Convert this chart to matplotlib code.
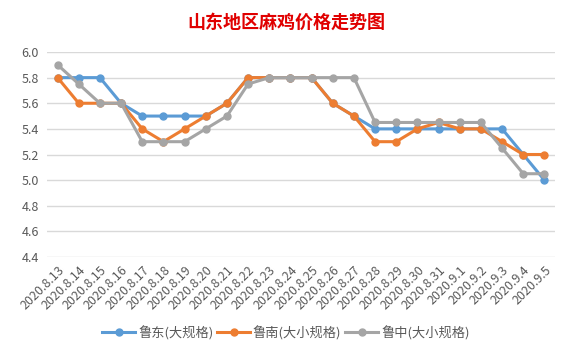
import matplotlib
matplotlib.use("Agg")
import matplotlib.pyplot as plt

plt.rcParams['font.family'] = ['Noto Sans CJK SC', 'DejaVu Sans']

dates = ['2020.8.13', '2020.8.14', '2020.8.15', '2020.8.16', '2020.8.17', '2020.8.18',
         '2020.8.19', '2020.8.20', '2020.8.21', '2020.8.22', '2020.8.23', '2020.8.24',
         '2020.8.25', '2020.8.26', '2020.8.27', '2020.8.28', '2020.8.29', '2020.8.30',
         '2020.8.31', '2020.9.1', '2020.9.2', '2020.9.3', '2020.9.4', '2020.9.5']
ludong = [5.8, 5.8, 5.8, 5.6, 5.5, 5.5, 5.5, 5.5, 5.6, 5.8, 5.8, 5.8,
          5.8, 5.6, 5.5, 5.4, 5.4, 5.4, 5.4, 5.4, 5.4, 5.4, 5.2, 5.0]
lunan = [5.8, 5.6, 5.6, 5.6, 5.4, 5.3, 5.4, 5.5, 5.6, 5.8, 5.8, 5.8,
         5.8, 5.6, 5.5, 5.3, 5.3, 5.4, 5.45, 5.4, 5.4, 5.3, 5.2, 5.2]
luzhong = [5.9, 5.75, 5.6, 5.6, 5.3, 5.3, 5.3, 5.4, 5.5, 5.75, 5.8, 5.8,
           5.8, 5.8, 5.8, 5.45, 5.45, 5.45, 5.45, 5.45, 5.45, 5.25, 5.05, 5.05]
names = ['鲁东(大规格)', '鲁南(大小规格)', '鲁中(大小规格)']
colors = ['#5B9BD5', '#ED7D31', '#A5A5A5']

fig = plt.figure(figsize=(5.72, 3.58), dpi=100)
ax = fig.add_axes([47 / 572, 1 - 257 / 358, (555 - 47) / 572, (257 - 52) / 358])

x = range(len(dates))
for vals, name, c in zip([ludong, lunan, luzhong], names, colors):
    ax.plot(x, vals, color=c, lw=2.2, marker='o', ms=5, label=name)

ax.set_xlim(-0.5, len(dates) - 0.5)
ax.set_ylim(4.4, 6.0)
ax.set_yticks([4.4, 4.6, 4.8, 5.0, 5.2, 5.4, 5.6, 5.8, 6.0])
ax.set_yticklabels(['4.4', '4.6', '4.8', '5.0', '5.2', '5.4', '5.6', '5.8', '6.0'])
ax.set_xticks(list(x))
ax.set_xticklabels(dates, rotation=45, ha='right', rotation_mode='anchor')
ax.tick_params(axis='both', length=0, colors='#595959', labelsize=9)
ax.tick_params(axis='x', pad=5)
ax.tick_params(axis='y', pad=6)
ax.grid(axis='y', color='#D9D9D9', lw=1)
ax.set_axisbelow(True)
for s in ax.spines.values():
    s.set_visible(False)

fig.suptitle('山东地区麻鸡价格走势图', color='#E00000', fontsize=13, fontweight='bold', y=0.965)
fig.legend(loc='center', bbox_to_anchor=(0.5, 0.07), ncol=3, frameon=False,
           fontsize=9.5, handlelength=2.5, columnspacing=0.3, handletextpad=0.2,
           labelcolor='#595959')

fig.savefig('out.png', dpi=100)
